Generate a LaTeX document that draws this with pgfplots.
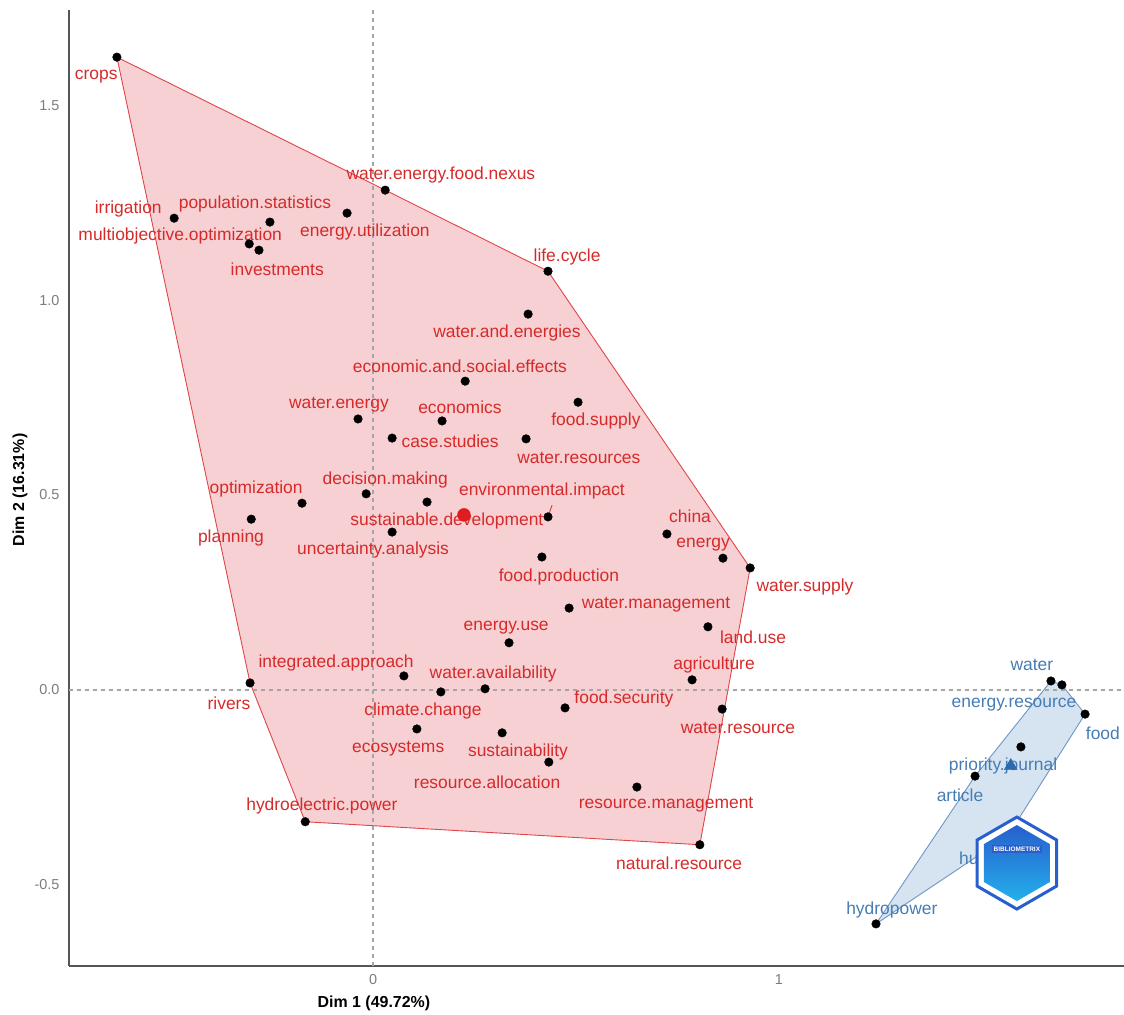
\documentclass[border=0pt]{standalone}
\usepackage{fontspec}
\setmainfont{Liberation Sans}
\usepackage{pgfplots}
\pgfplotsset{compat=1.18}
\usetikzlibrary{shapes.geometric}
\definecolor{lblred}{RGB}{214,42,42}
\definecolor{hullred}{RGB}{247,208,211}
\definecolor{edgered}{RGB}{222,70,72}
\definecolor{lblblue}{RGB}{70,125,180}
\definecolor{hullblue}{RGB}{214,228,241}
\definecolor{edgeblue}{RGB}{110,150,195}
\definecolor{axgray}{RGB}{85,85,85}
\definecolor{tickgray}{RGB}{125,125,125}
\definecolor{dashgray}{RGB}{165,165,165}
\definecolor{centred}{RGB}{222,30,30}
\definecolor{centblue}{RGB}{45,105,175}
\definecolor{logoA}{RGB}{40,95,205}
\definecolor{logoB}{RGB}{35,175,235}
\begin{document}
\begin{tikzpicture}[
  lr/.style={text=lblred, font=\fontsize{17.5}{20}\selectfont, inner sep=0pt},
  lb/.style={text=lblblue, font=\fontsize{17.5}{20}\selectfont, inner sep=0pt}]
\begin{axis}[
  scale only axis, width=1055bp, height=956bp,
  xmin=-0.749, xmax=1.850, ymin=-0.708, ymax=1.744,
  axis x line*=bottom, axis y line*=left,
  axis line style={axgray, line width=2bp, -},
  xtick={0,1}, xticklabels={0,1},
  ytick={-0.5,0,0.5,1,1.5}, yticklabels={-0.5,0.0,0.5,1.0,1.5},
  major tick length=0pt,
  tick label style={font=\fontsize{14.5}{17}\selectfont, text=tickgray},
  xticklabel style={yshift=-5bp},
  yticklabel style={xshift=-6bp},
  clip=false]
% red cluster hull
\addplot[fill=hullred, draw=edgered, line width=0.9bp] coordinates {
 (-0.631,1.623) (0.030,1.282) (0.431,1.074) (0.929,0.313)
 (0.805,-0.397) (-0.167,-0.338) (-0.303,0.018)} -- cycle;
% blue cluster hull
\addplot[fill=hullblue, draw=edgeblue, line width=0.9bp] coordinates {
 (1.670,0.023) (1.697,0.013) (1.754,-0.062) (1.564,-0.374)
 (1.239,-0.600) (1.483,-0.221)} -- cycle;
% reference lines
\addplot[dashgray, line width=1.2bp, dash pattern=on 4bp off 4bp] coordinates {(0,-0.708) (0,1.744)};
\addplot[dashgray, line width=1.2bp, dash pattern=on 4bp off 4bp] coordinates {(-0.749,0) (1.850,0)};
% connector
\addplot[lblred, line width=0.8bp] coordinates {(0.441,0.474) (0.431,0.444)};
% points
\addplot[only marks, mark=*, mark size=4.3bp, black] coordinates {
 (-0.631,1.623) (0.030,1.282) (-0.064,1.223) (-0.490,1.210) (-0.254,1.200)
 (-0.305,1.144) (-0.281,1.128) (0.431,1.074) (0.382,0.964) (0.227,0.792)
 (0.505,0.738) (-0.037,0.695) (0.170,0.690) (0.047,0.646) (0.377,0.644)
 (-0.017,0.503) (-0.175,0.479) (0.133,0.482) (0.431,0.444) (-0.300,0.438)
 (0.047,0.405) (0.724,0.400) (0.416,0.341) (0.862,0.338) (0.929,0.313)
 (0.483,0.210) (0.825,0.162) (0.335,0.121) (0.076,0.036) (0.786,0.026)
 (-0.303,0.018) (0.276,0.003) (0.167,-0.005) (0.473,-0.046) (0.860,-0.049)
 (0.108,-0.100) (0.318,-0.110) (0.433,-0.185) (0.650,-0.249) (-0.167,-0.338)
 (0.805,-0.397)
 (1.670,0.023) (1.697,0.013) (1.754,-0.062) (1.596,-0.146) (1.483,-0.221)
 (1.564,-0.374) (1.239,-0.600)};
\addplot[only marks, mark=*, mark size=6.5bp, centred] coordinates {(0.224,0.449)};
\addplot[only marks, mark=triangle*, mark size=7.5bp, centblue] coordinates {(1.571,-0.195)};
% red labels
\node[lr] at (axis cs:-0.682,1.574) {crops};
\node[lr] at (axis cs:0.167,1.321) {water.energy.food.nexus};
\node[lr] at (axis cs:-0.603,1.233) {irrigation};
\node[lr] at (axis cs:-0.291,1.246) {population.statistics};
\node[lr] at (axis cs:-0.475,1.164) {multiobjective.optimization};
\node[lr] at (axis cs:-0.020,1.174) {energy.utilization};
\node[lr] at (axis cs:-0.236,1.079) {investments};
\node[lr] at (axis cs:0.478,1.110) {life.cycle};
\node[lr] at (axis cs:0.330,0.915) {water.and.energies};
\node[lr] at (axis cs:0.214,0.831) {economic.and.social.effects};
\node[lr] at (axis cs:-0.084,0.731) {water.energy};
\node[lr] at (axis cs:0.214,0.726) {economics};
\node[lr] at (axis cs:0.549,0.690) {food.supply};
\node[lr] at (axis cs:0.190,0.638) {case.studies};
\node[lr] at (axis cs:0.507,0.595) {water.resources};
\node[lr] at (axis cs:0.030,0.538) {decision.making};
\node[lr] at (axis cs:-0.288,0.515) {optimization};
\node[lr] at (axis cs:0.416,0.510) {environmental.impact};
\node[lr] at (axis cs:0.182,0.433) {sustainable.development};
\node[lr] at (axis cs:-0.350,0.390) {planning};
\node[lr] at (axis cs:0.781,0.446) {china};
\node[lr] at (axis cs:0.000,0.359) {uncertainty.analysis};
\node[lr] at (axis cs:0.813,0.374) {energy};
\node[lr] at (axis cs:0.458,0.290) {food.production};
\node[lr] at (axis cs:1.064,0.264) {water.supply};
\node[lr] at (axis cs:0.697,0.218) {water.management};
\node[lr] at (axis cs:0.328,0.159) {energy.use};
\node[lr] at (axis cs:0.936,0.136) {land.use};
\node[lr] at (axis cs:-0.091,0.069) {integrated.approach};
\node[lr] at (axis cs:0.840,0.064) {agriculture};
\node[lr] at (axis cs:0.296,0.041) {water.availability};
\node[lr] at (axis cs:-0.355,-0.033) {rivers};
\node[lr] at (axis cs:0.618,-0.023) {food.security};
\node[lr] at (axis cs:0.123,-0.054) {climate.change};
\node[lr] at (axis cs:0.899,-0.097) {water.resource};
\node[lr] at (axis cs:0.062,-0.151) {ecosystems};
\node[lr] at (axis cs:0.357,-0.159) {sustainability};
\node[lr] at (axis cs:0.281,-0.236) {resource.allocation};
\node[lr] at (axis cs:-0.126,-0.297) {hydroelectric.power};
\node[lr] at (axis cs:0.722,-0.295) {resource.management};
\node[lr] at (axis cs:0.754,-0.444) {natural.resource};
% blue labels
\node[lb] at (axis cs:1.623,0.064) {water};
\node[lb] at (axis cs:1.579,-0.038) {energy.resource};
\node[lb] at (axis cs:1.798,-0.110) {food};
\node[lb] at (axis cs:1.552,-0.195) {priority.journal};
\node[lb] at (axis cs:1.446,-0.269) {article};
\node[lb] at (axis cs:1.520,-0.431) {humans};
\node[lb] at (axis cs:1.278,-0.564) {hydropower};
\coordinate (logo) at (axis cs:1.586,-0.444);
% axis titles
\node[font=\bfseries\fontsize{16}{19}\selectfont, anchor=center] at (axis description cs:0.289,0) [yshift=-37bp] {Dim 1 (49.72\%)};
\coordinate (ylab) at (axis description cs:0,0.498);
\end{axis}
\node[font=\bfseries\fontsize{16}{19}\selectfont, anchor=center, rotate=90] at ([xshift=-49bp]ylab) {Dim 2 (16.31\%)};
% watermark logo (drawn on top of everything)
\node[regular polygon, regular polygon sides=6, shape border rotate=30, minimum size=92bp,
  fill=white, draw=logoA, line width=3bp, inner sep=0pt] at (logo) {};
\node[regular polygon, regular polygon sides=6, shape border rotate=30, minimum size=76bp,
  top color=logoA, bottom color=logoB, inner sep=0pt] at (logo) {};
\node[text=white, font=\bfseries\fontsize{6.5}{7}\selectfont, fill=logoA, inner sep=1.5bp] at ([yshift=14bp]logo) {BIBLIOMETRIX};
\pgfresetboundingbox
\path (-69bp,-49bp) rectangle (1055bp,966bp);
\end{tikzpicture}
\end{document}
